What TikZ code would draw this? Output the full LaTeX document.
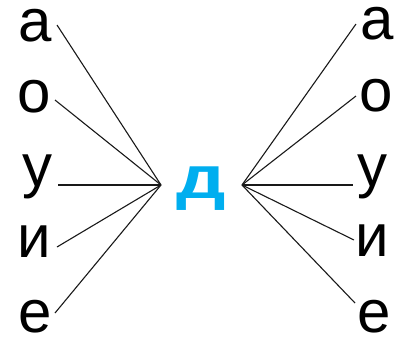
\documentclass[tikz,border=0pt]{standalone}
\usepackage{fontspec}
\setmainfont{Liberation Sans}
\definecolor{dblue}{RGB}{0,174,239}
\begin{document}
\begin{tikzpicture}[x=1pt,y=-1pt,
  letter/.style={anchor=base,inner sep=0pt,text height=33pt,text depth=0pt,font=\fontsize{60}{60}\selectfont},
  hubletter/.style={anchor=base,inner sep=0pt,text=dblue,xscale=1.3,font=\fontsize{60}{60}\selectfont\bfseries},
  link/.style={line width=1.1pt,black!90}]
\useasboundingbox (0,0) rectangle (402,338);
% left letters
\node[letter] (la) at (35,41) {а};
\node[letter] (lo) at (34,112) {о};
\node[letter] (lu) at (37,186) {у};
\node[letter] (li) at (34,257) {и};
\node[letter] (le) at (35,332) {е};
% right letters
\node[letter] (ra) at (377,39) {а};
\node[letter] (ro) at (376,111) {о};
\node[letter] (ru) at (372,186) {у};
\node[letter] (ri) at (372,256) {и};
\node[letter] (re) at (374,332) {е};
% centre
\node[hubletter] (d) at (201,198) {д};
\coordinate (hl) at (161,185);
\coordinate (hr) at (242,185);
\coordinate (lae) at (57,25);
\coordinate (loe) at (55,100);
\coordinate (lue) at (58,185);
\coordinate (lie) at (57,247);
\coordinate (lee) at (55,313);
\coordinate (rae) at (356,24);
\coordinate (roe) at (356,96);
\coordinate (rue) at (353,185);
\coordinate (rie) at (354,240);
\coordinate (ree) at (355,303);
\foreach \e in {lae,loe,lue,lie,lee} \draw[link] (\e) -- (hl);
\foreach \e in {rae,roe,rue,rie,ree} \draw[link] (hr) -- (\e);
\end{tikzpicture}
\end{document}
